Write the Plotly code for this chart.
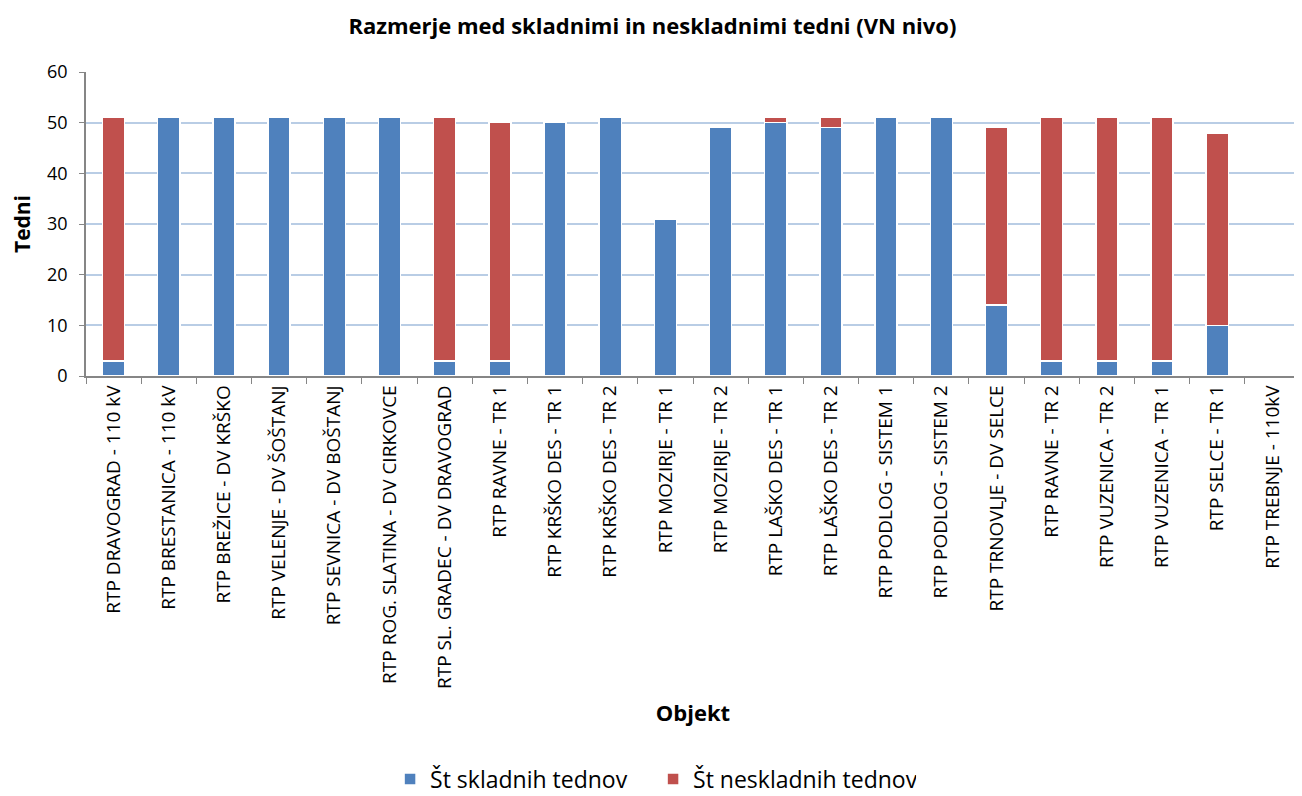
import plotly.graph_objects as go

categories = [
    "RTP DRAVOGRAD - 110 kV", "RTP BRESTANICA - 110 kV", "RTP BREŽICE - DV KRŠKO",
    "RTP VELENJE - DV ŠOŠTANJ", "RTP SEVNICA - DV BOŠTANJ", "RTP ROG. SLATINA - DV CIRKOVCE",
    "RTP SL. GRADEC - DV DRAVOGRAD", "RTP RAVNE - TR 1", "RTP KRŠKO DES - TR 1",
    "RTP KRŠKO DES - TR 2", "RTP MOZIRJE - TR 1", "RTP MOZIRJE - TR 2",
    "RTP LAŠKO DES - TR 1", "RTP LAŠKO DES - TR 2", "RTP PODLOG - SISTEM 1",
    "RTP PODLOG - SISTEM 2", "RTP TRNOVLJE - DV SELCE", "RTP RAVNE - TR 2",
    "RTP VUZENICA - TR 2", "RTP VUZENICA - TR 1", "RTP SELCE - TR 1", "RTP TREBNJE - 110kV",
]
skladni = [3, 51, 51, 51, 51, 51, 3, 3, 50, 51, 31, 49, 50, 49, 51, 51, 14, 3, 3, 3, 10, 0]
neskladni = [48, 0, 0, 0, 0, 0, 48, 47, 0, 0, 0, 0, 1, 2, 0, 0, 35, 48, 48, 48, 38, 0]

FONT = "Open Sans"
W, H = 1294, 796  # page body adds an 8px offset

fig = go.Figure()
fig.add_trace(go.Bar(x=categories, y=skladni, name="Št skladnih tednov",
                     marker=dict(color="#4F81BD", line=dict(color="white", width=1.5))))
fig.add_trace(go.Bar(x=categories, y=neskladni, name="Št neskladnih tednov",
                     marker=dict(color="#C0504D", line=dict(color="white", width=1.5))))

fig.update_layout(
    barmode="stack", bargap=0.6,
    width=W, height=H,
    paper_bgcolor="white", plot_bgcolor="white",
    font=dict(family=FONT, size=19, color="black"),
    margin=dict(l=78, r=2, t=64, b=428),
    title=dict(text="<b>Razmerje med skladnimi in neskladnimi tedni (VN nivo)</b>",
               x=0.498, xanchor="center", xref="container", y=1 - 18 / H, yanchor="middle",
               font=dict(family=FONT, size=22)),
    xaxis=dict(
        tickangle=-90, tickfont=dict(size=19),
        showline=True, linecolor="#868686", linewidth=1.5,
        ticks="outside", ticklen=6, tickcolor="#868686", tickson="boundaries",
        showgrid=False, automargin=False,
        title=dict(text="<b>Objekt</b>", font=dict(size=22), standoff=18),
    ),
    yaxis=dict(
        range=[0, 60], dtick=10,
        showline=True, linecolor="#868686", linewidth=1.5,
        ticks="outside", ticklen=5, tickcolor="#868686", ticklabelstandoff=8,
        gridcolor="#B9CDE5", gridwidth=1.5,
        tickfont=dict(size=18), automargin=False,
        title=dict(text="<b>Tedni</b>", font=dict(size=21), standoff=24),
    ),
    legend=dict(orientation="h", x=0.4985, xanchor="center", xref="container",
                y=1 - 771 / H, yanchor="middle", yref="container",
                entrywidth=218, entrywidthmode="pixels",
                font=dict(size=23), traceorder="normal"),
)
fig.write_html("out.html")
